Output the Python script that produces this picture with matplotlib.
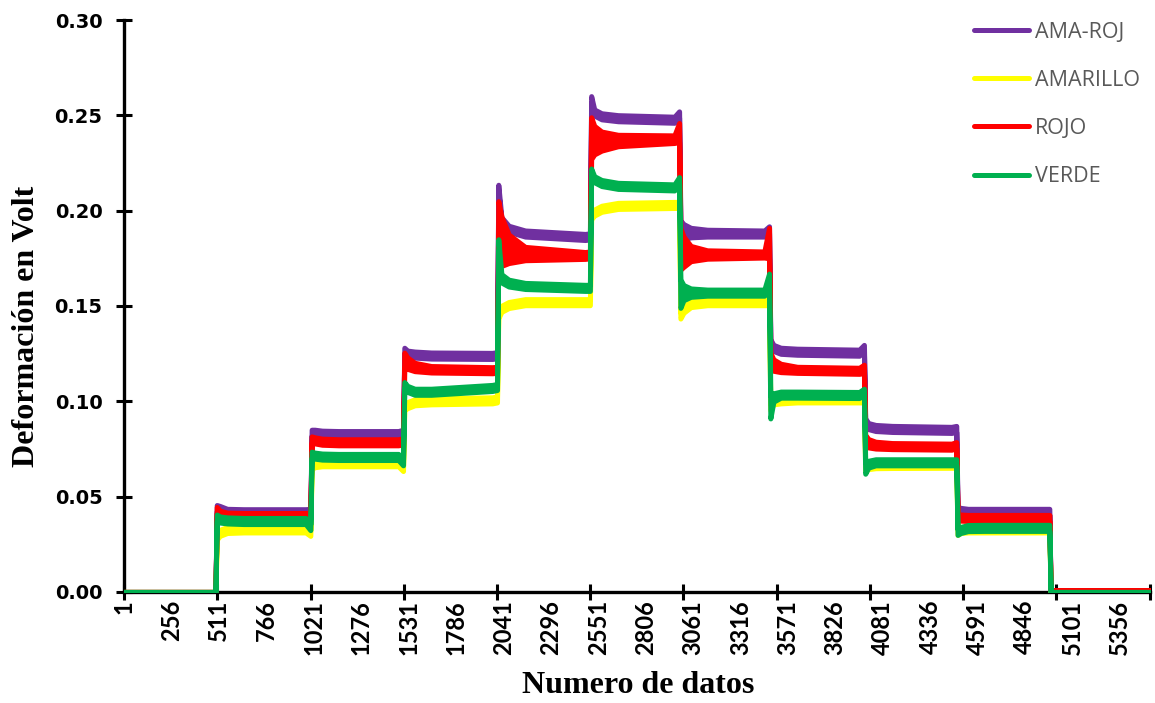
import numpy as np
import matplotlib.pyplot as plt
from matplotlib.lines import Line2D

# sample index where each step change happens (5 up, 5 down)
TRANSITIONS = [505, 1024, 1531, 2045, 2553, 3041, 3533, 4052, 4557, 5066]
N_SAMPLES = 5611

# keypoints inside each step: start (peak), early, settling, mid, end-30, end
# values read per step for each series (in volts)
AMA_ROJ = [
    [0.0440, 0.0435, 0.0420, 0.0418, 0.0418, 0.0420],
    [0.0835, 0.0835, 0.0830, 0.0828, 0.0828, 0.0835],
    [0.1265, 0.1250, 0.1245, 0.1240, 0.1238, 0.1242],
    [0.2120, 0.1950, 0.1905, 0.1880, 0.1862, 0.1865],
    [0.2585, 0.2515, 0.2495, 0.2485, 0.2477, 0.2505],
    [0.1900, 0.1890, 0.1885, 0.1882, 0.1880, 0.1900],
    [0.1310, 0.1280, 0.1265, 0.1260, 0.1255, 0.1280],
    [0.0895, 0.0870, 0.0860, 0.0855, 0.0850, 0.0855],
    [0.0430, 0.0425, 0.0420, 0.0420, 0.0420, 0.0420],
]
AMARILLO = [
    [0.0290, 0.0310, 0.0325, 0.0328, 0.0328, 0.0310],
    [0.0660, 0.0670, 0.0675, 0.0675, 0.0675, 0.0650],
    [0.0970, 0.0980, 0.0995, 0.1000, 0.1005, 0.1010],
    [0.1450, 0.1485, 0.1505, 0.1520, 0.1520, 0.1520],
    [0.1970, 0.1990, 0.2010, 0.2025, 0.2030, 0.2030],
    [0.1450, 0.1480, 0.1510, 0.1520, 0.1520, 0.1520],
    [0.0970, 0.1000, 0.1005, 0.1010, 0.1010, 0.1010],
    [0.0650, 0.0660, 0.0665, 0.0666, 0.0667, 0.0667],
    [0.0315, 0.0325, 0.0328, 0.0328, 0.0328, 0.0328],
]
ROJO = [
    [0.0430, 0.0410, 0.0400, 0.0398, 0.0398, 0.0400],
    [0.0800, 0.0795, 0.0788, 0.0785, 0.0785, 0.0790],
    [0.1215, 0.1200, 0.1180, 0.1168, 0.1163, 0.1165],
    [0.1890, 0.1840, 0.1800, 0.1775, 0.1765, 0.1768],
    [0.2380, 0.2370, 0.2365, 0.2368, 0.2375, 0.2410],
    [0.1800, 0.1785, 0.1775, 0.1770, 0.1770, 0.1830],
    [0.1215, 0.1190, 0.1175, 0.1165, 0.1160, 0.1170],
    [0.0795, 0.0780, 0.0770, 0.0765, 0.0762, 0.0770],
    [0.0395, 0.0390, 0.0388, 0.0388, 0.0388, 0.0388],
]
VERDE = [
    [0.0390, 0.0380, 0.0375, 0.0372, 0.0372, 0.0340],
    [0.0720, 0.0715, 0.0710, 0.0708, 0.0708, 0.0680],
    [0.1085, 0.1065, 0.1050, 0.1050, 0.1070, 0.1075],
    [0.1820, 0.1645, 0.1620, 0.1605, 0.1595, 0.1595],
    [0.2205, 0.2165, 0.2145, 0.2130, 0.2122, 0.2160],
    [0.1565, 0.1570, 0.1570, 0.1570, 0.1570, 0.1630],
    [0.0970, 0.1020, 0.1035, 0.1035, 0.1033, 0.1050],
    [0.0650, 0.0670, 0.0680, 0.0680, 0.0680, 0.0680],
    [0.0315, 0.0325, 0.0335, 0.0336, 0.0336, 0.0336],
]
# half width of the oscillation band where it is wider than usual
AMA_ROJ_SPREAD = {5: [0.0050, 0.0040, 0.0025, 0.0018, 0.0016, 0.0018]}
AMARILLO_SPREAD = {}
ROJO_SPREAD = {
    2: [0.0040, 0.0030, 0.0022, 0.0017, 0.0016, 0.0016],
    3: [0.0160, 0.0130, 0.0075, 0.0035, 0.0018, 0.0018],
    4: [0.0110, 0.0075, 0.0050, 0.0030, 0.0020, 0.0050],
    5: [0.0110, 0.0080, 0.0040, 0.0022, 0.0016, 0.0080],
    6: [0.0040, 0.0030, 0.0022, 0.0016, 0.0016, 0.0022],
    7: [0.0030, 0.0022, 0.0018, 0.0016, 0.0016, 0.0016],
}
VERDE_SPREAD = {
    3: [0.0030, 0.0022, 0.0018, 0.0016, 0.0016, 0.0016],
    5: [0.0075, 0.0040, 0.0022, 0.0016, 0.0016, 0.0040],
    6: [0.0060, 0.0022, 0.0016, 0.0016, 0.0016, 0.0016],
    7: [0.0030, 0.0018, 0.0016, 0.0016, 0.0016, 0.0016],
}
BASE_SPREAD = 0.0016
END_LEVEL = {"AMA-ROJ": 0.0, "AMARILLO": 0.0, "ROJO": 0.0008, "VERDE": 0.0}

NAMES = ["AMA-ROJ", "AMARILLO", "ROJO", "VERDE"]
COLORS = ["#7030A0", "#FFFF00", "#FF0000", "#00B050"]

LABEL_STEP = 255
TICK_STEP = 510


def build(steps, spread, end_level):
    offsets_start = [3, 20, 60, 150]
    offsets_end = [30, 4]
    xs, ys, ss = [1, TRANSITIONS[0] - 4], [0.0, 0.0], [0.0, 0.0]
    for k, vals in enumerate(steps):
        a, b = TRANSITIONS[k], TRANSITIONS[k + 1]
        xs += [a + o for o in offsets_start] + [b - o for o in offsets_end]
        ys += vals
        ss += spread.get(k, [BASE_SPREAD] * 6)
    xs += [TRANSITIONS[-1] + 3, N_SAMPLES]
    ys += [end_level, end_level]
    ss += [0.0, 0.0]
    return np.array(xs), np.array(ys), np.array(ss)


series = [AMA_ROJ, AMARILLO, ROJO, VERDE]
spreads = [AMA_ROJ_SPREAD, AMARILLO_SPREAD, ROJO_SPREAD, VERDE_SPREAD]

fig = plt.figure(figsize=(11.55, 7.03), dpi=100)
ax = fig.add_axes([0.1074, 0.158, 0.888, 0.8135])

for i, (name, steps, spr, col) in enumerate(zip(NAMES, series, spreads, COLORS)):
    x, y, s = build(steps, spr, END_LEVEL[name])
    poly = ax.fill_between(x, y - s, y + s, facecolor=col, edgecolor=col,
                           linewidth=3.6, zorder=2 + i)
    poly.set_joinstyle("round")
    poly.set_capstyle("round")

ax.set_xlim(1, N_SAMPLES)
ax.set_ylim(0, 0.30)

# y axis
yt = np.arange(0, 0.301, 0.05)
ax.set_yticks(yt, labels=[f"{v:.2f}" for v in yt],
              fontfamily="DejaVu Sans", fontweight="bold", fontsize=14)
ax.tick_params(axis="y", pad=10)

# x axis: tick marks every 510 samples, labels every 255
ax.set_xticks(np.arange(1, N_SAMPLES + 1, TICK_STEP), labels=[])
label_vals = np.arange(1, N_SAMPLES - 200, LABEL_STEP)
for v in label_vals:
    ax.text(1 + (v - 1) * 1.017, -0.014, str(v), transform=ax.get_xaxis_transform(),
            rotation=90, ha="center", va="top", fontfamily="Lato",
            fontweight="bold", fontsize=17)

ax.tick_params(axis="both", which="major", direction="inout", length=11, width=2.2)
for side in ["top", "right"]:
    ax.spines[side].set_visible(False)
for side in ["left", "bottom"]:
    ax.spines[side].set_linewidth(2.4)

ax.set_xlabel("Numero de datos", fontfamily="Liberation Serif", fontweight="bold",
              fontsize=23)
ax.set_ylabel("Deformación en Volt", fontfamily="Liberation Serif", fontweight="bold",
              fontsize=23)
ax.xaxis.set_label_coords(0.501, -0.138)
ax.yaxis.set_label_coords(-0.081, 0.465)

handles = [Line2D([], [], color=c, lw=3.6, solid_capstyle="round") for c in COLORS]
leg = ax.legend(handles, NAMES, loc="upper left", bbox_to_anchor=(0.829, 0.997),
                frameon=False, handlelength=2.55, handletextpad=0.25,
                labelspacing=1.26, borderpad=0, borderaxespad=0,
                prop={"family": "Open Sans", "size": 15.5})
for t in leg.get_texts():
    t.set_color("#595959")

fig.savefig("out.png", dpi=100)
